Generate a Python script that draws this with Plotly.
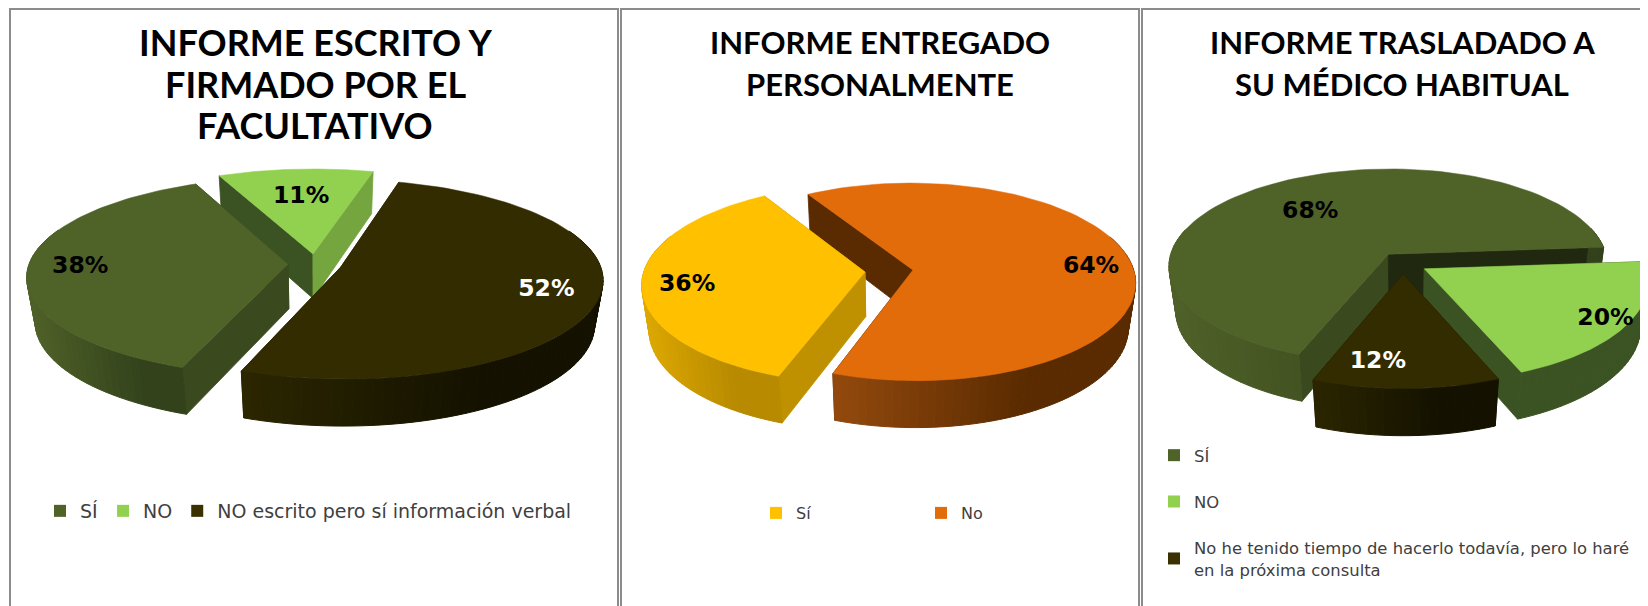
import math
import plotly.graph_objects as go

# The page keeps its default 8 px body margin, so the figure fills the rest of the 1648x606 window.
PAGE_W, PAGE_H, BODY = 1648, 606, 8
W, H = PAGE_W - BODY, PAGE_H - BODY


def px(x):
    return (x - BODY) / W


def py(y):
    return 1 - (y - BODY) / H


# ---------- data ----------
title_lines1 = ["INFORME ESCRITO Y", "FIRMADO POR EL", "FACULTATIVO"]
title_lines2 = ["INFORME ENTREGADO", "PERSONALMENTE"]
title_lines3 = ["INFORME TRASLADADO A", "SU MÉDICO HABITUAL"]
cats1 = ["SÍ", "NO", "NO escrito pero sí información verbal"]
vals1 = [38, 11, 52]
cats2 = ["Sí", "No"]
vals2 = [36, 64]
cats3 = ["SÍ", "NO", "No he tenido tiempo de hacerlo todavía, pero lo haré<br>en la próxima consulta"]
vals3 = [68, 20, 12]

# ---------- style ----------
FONT_T = "Lato"
FONT_L = "DejaVu Sans"
TOP = dict(g="#4F6228", n="#92D050", d="#332C00", y="#FFC000", o="#E26B0A")
LEG = dict(g="#4F6228", n="#92D050", d="#3A3000", y="#FFC000", o="#E26B0A")
OUTER = dict(g=("#4F6128", "#33421B"), n=("#3B5323", "#3B5323"), d=("#2B2600", "#141100"),
             y=("#DCA800", "#B88A00"), o=("#9A4D0F", "#5A2B00"))

panels = [
    dict(vals=vals1, cats=cats1, keys="gnd", start=200.5, x0=BODY, x1=620, cx=315, cy=264, rx=259, e=0.104,
         edge=[("#3A4A1E", "#3A4A1E"), ("#3B5323", "#75A53F"), ("#2B2600", "#2B2600")],
         lab_r=[0.80, 0.65, 0.80], lab_d=[0, 0, -1], lab_c=["#000000", "#000000", "#FFFFFF"],
         title=title_lines1, title_size=36, title_x=315, title_y=[42, 84, 125]),
    dict(vals=vals2, cats=cats2, keys="yo", start=199.5, x0=620, x1=1140, cx=889, cy=271, rx=221, e=0.109,
         edge=[("#BF9000", "#BF9000"), ("#5A2B00", "#5A2B00")],
         lab_r=[0.80, 0.81], lab_d=[-3.5, 4], lab_c=["#000000", "#000000"],
         title=title_lines2, title_size=31, title_x=880, title_y=[42, 84]),
    dict(vals=vals3, cats=cats3, keys="gnd", start=201.0, x0=1140, x1=PAGE_W, cx=1403, cy=263, rx=220, e=0.113,
         edge=[("#3A4A1E", "#20280F"), ("#3B5323", "#3B5323"), ("#1F1B00", "#1F1B00")],
         lab_r=[0.60, 0.90, 0.80], lab_d=[-3, 0, 8], lab_c=["#000000", "#000000", "#FFFFFF"],
         title=title_lines3, title_size=31, title_x=1402, title_y=[42, 84]),
]
RY, PERSP, SHRINK, DEPTH = 97.6, 0.121, 0.03, 46.0


def mix(a, b, f):
    ca = [int(a[i:i + 2], 16) for i in (1, 3, 5)]
    cb = [int(b[i:i + 2], 16) for i in (1, 3, 5)]
    return "#%02X%02X%02X" % tuple(round(p + (q - p) * f) for p, q in zip(ca, cb))


fig = go.Figure()
for pi, p in enumerate(panels):
    ax = "" if pi == 0 else str(pi + 1)
    xa, ya = "x" + ax, "y" + ax

    def proj(u, v, z=0.0):
        w = 1 - PERSP * v + SHRINK * z
        return p["cx"] + p["rx"] * u / w, p["cy"] + (RY * v + DEPTH * z) / w

    def poly(pts, color, lw=0.8):
        fig.add_trace(go.Scatter(
            x=[q[0] for q in pts] + [pts[0][0]], y=[q[1] for q in pts] + [pts[0][1]],
            mode="lines", fill="toself", fillcolor=color, line=dict(color=color, width=lw),
            hoverinfo="skip", showlegend=False, xaxis=xa, yaxis=ya))

    total = sum(p["vals"])
    slices = []
    a = p["start"]
    for i, val in enumerate(p["vals"]):
        span = 360.0 * val / total
        slices.append((i, a, a + span))
        a += span

    def mid_v(s):
        return -math.cos(math.radians((s[1] + s[2]) / 2))

    labels = []
    for i, a0, a1 in sorted(slices, key=mid_v):
        key = p["keys"][i]
        m = math.radians((a0 + a1) / 2)
        ox, oy = p["e"] * math.sin(m), -p["e"] * math.cos(m)

        def rim(t, r=1.0):
            return ox + r * math.sin(math.radians(t)), oy - r * math.cos(math.radians(t))

        # radial cut faces
        (c0, c1) = p["edge"][i]
        for ang, col in ((a0, c0), (a1, c1)):
            ru, rv = rim(ang)
            poly([proj(ox, oy), proj(ru, rv), proj(ru, rv, 1), proj(ox, oy, 1)], col)
        # outer wall, split for the shading
        steps = max(8, int((a1 - a0) / 2))
        ts = [a0 + (a1 - a0) * k / steps for k in range(steps + 1)]
        xs = [proj(*rim(t))[0] for t in ts]
        xmin, xmax = min(xs), max(xs)
        c_l, c_r = OUTER[key]
        for k in range(steps):
            u0, v0 = rim(ts[k])
            u1, v1 = rim(ts[k + 1])
            if v0 < -0.35 and v1 < -0.35:
                continue
            f = (0.5 * (xs[k] + xs[k + 1]) - xmin) / max(xmax - xmin, 1)
            poly([proj(u0, v0), proj(u1, v1), proj(u1, v1, 1), proj(u0, v0, 1)],
                 mix(c_l, c_r, min(1.0, f * 1.5)), 1)
        # top face
        arc = [proj(*rim(a0 + (a1 - a0) * k / 90)) for k in range(91)]
        poly([proj(ox, oy)] + arc, TOP[key], 0.5)
        # value label
        lt = math.degrees(m) + p["lab_d"][i]
        lu, lv = rim(lt, p["lab_r"][i])
        labels.append((proj(lu, lv), f"{p['vals'][i]}%", p["lab_c"][i]))

    fig.add_trace(go.Scatter(
        x=[q[0][0] for q in labels], y=[q[0][1] for q in labels], text=[q[1] for q in labels],
        mode="text", textposition="middle center",
        textfont=dict(family=FONT_L, size=23.5, weight="bold", color=[q[2] for q in labels]),
        hoverinfo="skip", showlegend=False, xaxis=xa, yaxis=ya))

    legend_name = "legend" if pi == 0 else f"legend{pi + 1}"
    for i, name in enumerate(p["cats"]):
        fig.add_trace(go.Scatter(
            x=[None], y=[None], mode="markers", name=name, legend=legend_name,
            legendgroup=f"p{pi}_{i}",
            marker=dict(symbol="square", size=12, color=LEG[p["keys"][i]]),
            xaxis=xa, yaxis=ya))

layout = dict(
    width=W, height=H, margin=dict(l=0, r=0, t=0, b=0),
    paper_bgcolor="#FFFFFF", plot_bgcolor="rgba(0,0,0,0)", autosize=False,
)
for pi, p in enumerate(panels):
    ax = "" if pi == 0 else str(pi + 1)
    layout["xaxis" + ax] = dict(domain=[px(p["x0"]), px(p["x1"])], range=[p["x0"], p["x1"]], visible=False,
                                anchor="y" + ax, fixedrange=True)
    layout["yaxis" + ax] = dict(domain=[0, 1], range=[PAGE_H, BODY], visible=False, anchor="x" + ax,
                                fixedrange=True)
fig.update_layout(**layout)

LEG_COL = "#404040"
base = dict(bgcolor="rgba(0,0,0,0)", itemclick=False, itemdoubleclick=False, borderwidth=0, xanchor="left")
fig.update_layout(
    legend=dict(base, font=dict(family=FONT_L, size=19, color=LEG_COL), traceorder="normal",
                orientation="h", x=px(40), y=py(511), yanchor="middle"),
    legend2=dict(base, font=dict(family=FONT_L, size=16, color=LEG_COL), traceorder="normal",
                 orientation="h", x=px(756), y=py(513), yanchor="middle",
                 entrywidth=120, entrywidthmode="pixels"),
    legend3=dict(base, font=dict(family=FONT_L, size=16.4, color=LEG_COL), traceorder="grouped",
                 orientation="v", x=px(1154), y=py(438), yanchor="top", tracegroupgap=22),
)

for p in panels:
    for line, y in zip(p["title"], p["title_y"]):
        fig.add_annotation(text=f"<b>{line}</b>", x=px(p["title_x"]), y=py(y), xref="paper", yref="paper",
                           xanchor="center", yanchor="middle", showarrow=False,
                           font=dict(family=FONT_T, size=p["title_size"], color="#000000"))

for x0, x1 in ((10, 618), (621, 1139), (1142, 1660)):
    fig.add_shape(type="rect", xref="paper", yref="paper", x0=px(x0), x1=px(x1), y0=-0.05, y1=py(9),
                  line=dict(color="#8C8C8C", width=2), fillcolor="rgba(0,0,0,0)", layer="below")

fig.write_html("out.html")
